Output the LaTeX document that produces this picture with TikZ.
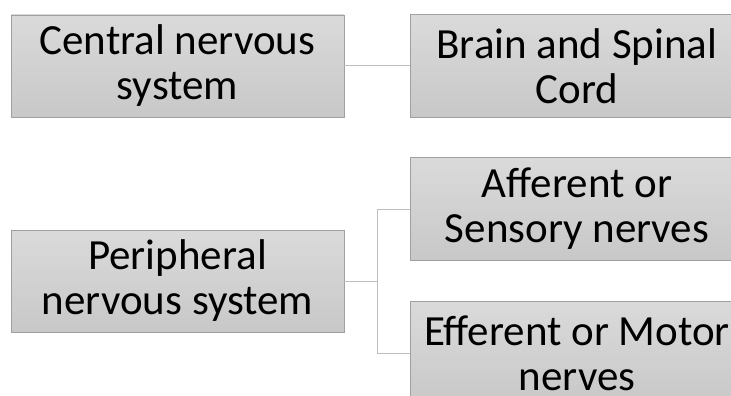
\documentclass[tikz,border=0pt]{standalone}
\usepackage{fontspec}
\setmainfont{Carlito}
\definecolor{boxtop}{RGB}{218,218,218}
\definecolor{boxbot}{RGB}{200,200,200}
\definecolor{boxline}{RGB}{160,160,160}
\definecolor{linkline}{RGB}{190,190,190}
\begin{document}
\begin{tikzpicture}[x=1pt,y=-1pt,
  termbox/.style={draw=boxline, line width=0.8pt, top color=boxtop, bottom color=boxbot,
    minimum width=333pt, minimum height=102pt, inner sep=0pt, align=center,
    font=\fontsize{43}{45}\selectfont},
  % right-hand boxes run past the page edge; their outline is drawn on three sides
  openbox/.style={termbox, draw=none},
  link/.style={draw=linkline, line width=1pt}]
\fill[white] (0,0) rectangle (731,396);

\node[termbox] (cns) at (177.5,66) {Central nervous\\system};
\node[termbox] (pns) at (177.5,281) {Peripheral\\nervous system};
\node[openbox] (brain) at (577,66) {Brain and Spinal\\Cord};
\node[openbox] (aff) at (577,209) {Afferent or\\Sensory nerves};
\node[openbox] (eff) at (577,353) {Efferent or Motor\\nerves};
\foreach \b in {brain,aff,eff}
  \draw[boxline, line width=0.8pt] ([xshift=20pt]\b.north east) -- (\b.north west)
    -- (\b.south west) -- ([xshift=20pt]\b.south east);

\coordinate (split) at (377,281);
\draw[link] (cns.east) -- (brain.west);
\draw[link] (pns.east) -- (split);
\draw[link] (split) |- (aff.west);
\draw[link] (split) |- (eff.west);

% page frame: the right-hand boxes run past it and are cut off
\pgfresetboundingbox
\useasboundingbox (0,0) rectangle (731,396);
\end{tikzpicture}
\end{document}
